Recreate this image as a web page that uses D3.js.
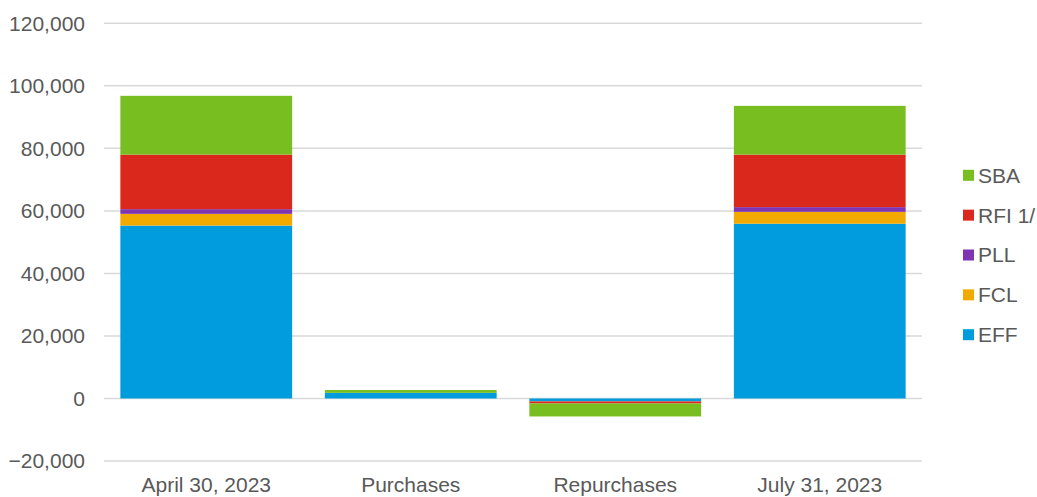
<!DOCTYPE html>
<html>
<head>
<meta charset="utf-8">
<script src="https://cdn.jsdelivr.net/npm/d3@7"></script>
<style>
  body { margin: 0; background: #fff; }
  svg text { font-family: 'Liberation Sans', Arial, sans-serif; fill: #595959; }
</style>
</head>
<body>
<div id="chart"></div>
<script>
// data (millions)
const categories = ['April 30, 2023', 'Purchases', 'Repurchases', 'July 31, 2023']
const seriesKeys = ['EFF', 'FCL', 'PLL', 'RFI 1/', 'SBA']
const effValues = [55300, 1800, -950, 55900]
const fclValues = [3750, 0, 0, 3800]
const pllValues = [1500, 0, 0, 1500]
const rfiValues = [17450, 0, -650, 16800]
const sbaValues = [18800, 900, -4150, 15600]
const yTicks = [-20000, 0, 20000, 40000, 60000, 80000, 100000, 120000]

const colors = {
  'EFF': '#009cde',
  'FCL': '#f2a900',
  'PLL': '#7f35b2',
  'RFI 1/': '#da291c',
  'SBA': '#78be20',
}

const dimensions = {
  width: 1037,
  height: 497,
  left: 104,
  right: 922,
  top: 23.3,
  bottom: 461,
}

const rows = categories.map((c, i) => ({
  category: c,
  'EFF': effValues[i],
  'FCL': fclValues[i],
  'PLL': pllValues[i],
  'RFI 1/': rfiValues[i],
  'SBA': sbaValues[i],
}))

const svg = d3.select('#chart')
  .append('svg')
  .attr('width', dimensions.width)
  .attr('height', dimensions.height)

const xScale = d3.scaleBand()
  .domain(categories)
  .range([dimensions.left, dimensions.right])
  .paddingInner(0.16)
  .paddingOuter(0.08)

const yScale = d3.scaleLinear()
  .domain([-20000, 120000])
  .range([dimensions.bottom, dimensions.top])

// gridlines
svg.append('g')
  .selectAll('line')
  .data(yTicks)
  .join('line')
  .attr('x1', dimensions.left)
  .attr('x2', dimensions.right)
  .attr('y1', d => yScale(d))
  .attr('y2', d => yScale(d))
  .attr('stroke', '#d9d9d9')
  .attr('stroke-width', 1.5)

// stacked bars
const stacked = d3.stack()
  .keys(seriesKeys)
  .offset(d3.stackOffsetDiverging)(rows)

svg.append('g')
  .selectAll('g')
  .data(stacked)
  .join('g')
  .attr('fill', d => colors[d.key])
  .selectAll('rect')
  .data(d => d)
  .join('rect')
  .attr('x', d => xScale(d.data.category))
  .attr('width', xScale.bandwidth())
  .attr('y', d => yScale(Math.max(d[0], d[1])))
  .attr('height', d => Math.abs(yScale(d[0]) - yScale(d[1])))

// y axis
const yAxis = d3.axisLeft(yScale)
  .tickValues(yTicks)
  .tickSize(0)
  .tickPadding(19)
  .tickFormat(d3.format(','))

svg.append('g')
  .attr('transform', `translate(${dimensions.left},0)`)
  .call(yAxis)
  .call(g => g.select('.domain').remove())
  .selectAll('text')
  .attr('font-size', 21)
  .attr('fill', '#595959')

// x axis
const xAxis = d3.axisBottom(xScale)
  .tickSize(0)
  .tickPadding(16)

svg.append('g')
  .attr('transform', `translate(0,${dimensions.bottom})`)
  .call(xAxis)
  .call(g => g.select('.domain').remove())
  .selectAll('text')
  .attr('font-size', 21)
  .attr('fill', '#595959')

// legend
const legendKeys = seriesKeys.slice().reverse()
const legend = svg.append('g')
  .selectAll('g')
  .data(legendKeys)
  .join('g')
  .attr('transform', (d, i) => `translate(963, ${175.3 + i * 39.85})`)

legend.append('rect')
  .attr('x', 0)
  .attr('y', -5.5)
  .attr('width', 11)
  .attr('height', 11)
  .attr('fill', d => colors[d])

legend.append('text')
  .attr('x', 15)
  .attr('dy', '0.35em')
  .attr('font-size', 21)
  .text(d => d)
</script>
</body>
</html>
